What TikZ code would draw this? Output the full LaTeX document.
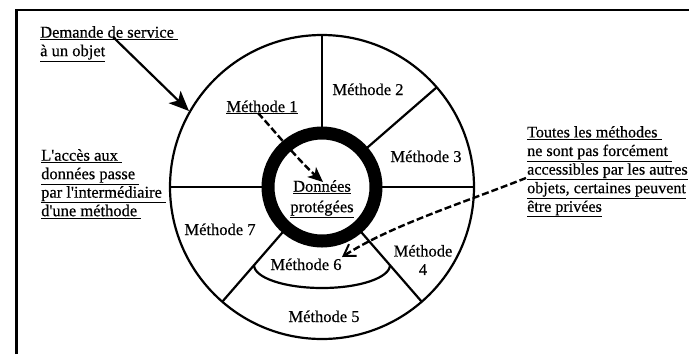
\documentclass[tikz,border=0pt]{standalone}
\usepackage{fontspec}
\setmainfont{Liberation Serif}
\newfontfamily\scanfont{Liberation Serif}[FakeBold=0.5]
\usetikzlibrary{arrows.meta,calc}
\begin{document}
\begin{tikzpicture}[x=1pt,y=-1pt,
  lbl/.style={font=\scanfont\fontsize{16.5}{18.5}\selectfont, inner sep=0pt},
  note/.style={lbl, align=left, anchor=north west},
  heavy/.style={line width=2.2pt},
  dashedlink/.style={line width=2.4pt, dash pattern=on 7pt off 3pt}
]
\useasboundingbox (0,0) rectangle (689,354);
% open frame
\draw[line width=2.2pt] (16.5,354) -- (16.5,10) -- (689,10);

% object: outer circle, protected core, method sectors
\coordinate (c) at (322,187);
\draw[heavy] (c) circle (152);
\draw[line width=13pt] (c) circle (54);
\foreach \a in {90,41,0,-49,180,229}
  \draw[heavy] ($(c)+(-\a:60)$) -- ($(c)+(-\a:152)$);
\draw[heavy] (254,265) arc[start angle=180, end angle=0, x radius=68, y radius=23];

% method labels
\node[lbl, anchor=base] (m1) at (262,112) {\underline{Méthode 1}};
\node[lbl, anchor=base] (m2) at (368,95) {Méthode 2};
\node[lbl, anchor=base] (m3) at (426,162) {Méthode 3};
\node[lbl, align=center] (m4) at (423,260) {Méthode\\4};
\node[lbl, anchor=base] (m5) at (324,322) {Méthode 5};
\node[lbl, anchor=base] (m6) at (306,270) {Méthode 6};
\node[lbl, anchor=base] (m7) at (220,235) {Méthode 7};
\node[lbl, align=center] (data) at (322,199) {\underline{Données}\\[2pt]\underline{protégées}};

% notes
\node[note] (req) at (40,26) {\underline{Demande de service\ }\\\underline{à un objet}};
\node[note] (access) at (41,149) {\underline{L'accès aux\ }\\\underline{données passe\ }\\\underline{par l'intermédiaire\ }\\\underline{d'une méthode\ }};
\node[note, font=\scanfont\fontsize{16.1}{18.6}\selectfont] (private) at (527,126) {\underline{Toutes les méthodes\ }\\\underline{ne sont pas forcément\ }\\\underline{accessibles par les autres}\\\underline{objets, certaines peuvent}\\\underline{être privées}};

% connectors
\coordinate (reqstart) at (113,37);
\coordinate (reqend) at (189,111);
\draw[heavy, -{Stealth[length=20pt,width=17pt,inset=5pt]}] (reqstart) -- (reqend);

\coordinate (m1start) at (258,113);
\coordinate (dataend) at (323,182);
\draw[dashedlink, -{Stealth[length=15pt,width=13pt,inset=4pt]}]
  (m1start) .. controls (272,128) and (298,160) .. (dataend);

\coordinate (privstart) at (526,178);
\coordinate (m6end) at (342,257);
\draw[dashedlink, -{Straight Barb[length=11pt,width=14pt,line width=2pt]}]
  (privstart) .. controls (460,204) and (390,226) .. (m6end);
\end{tikzpicture}
\end{document}
